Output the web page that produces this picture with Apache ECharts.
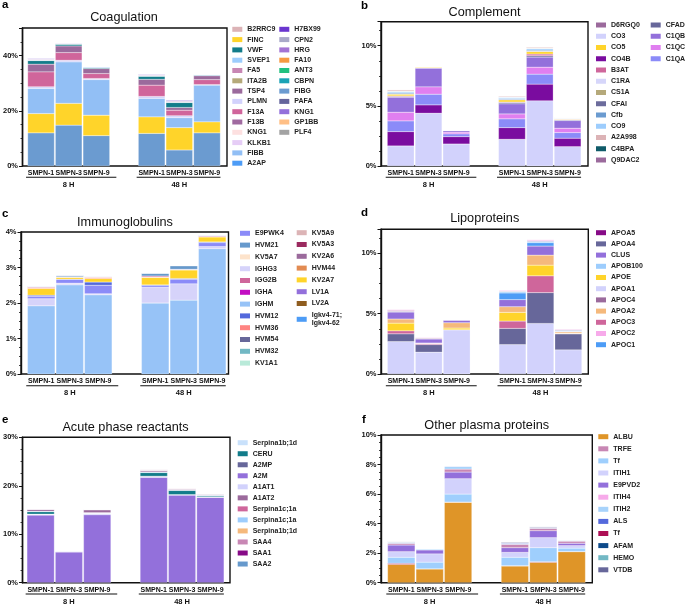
<!DOCTYPE html>
<html><head><meta charset="utf-8">
<script src="https://cdn.jsdelivr.net/npm/echarts@6/dist/echarts.min.js"></script>
<style>html,body{margin:0;padding:0;background:#fff}#c{width:685px;height:606px}</style>
</head><body><div id="c"></div>
<script>
// ---------- shared categories ----------
const categories = ['SMPN-1','SMPN-3','SMPN-9','','SMPN-1','SMPN-3','SMPN-9'];
const groups = ['8 H','48 H'];
// each value row: [8H SMPN-1, 8H SMPN-3, 8H SMPN-9, 48H SMPN-1, 48H SMPN-3, 48H SMPN-9] (%)

// ---------- a: Coagulation ----------
const coagNames = ['FIBG','FINC','FIBB','PLMN','F13A','TSP4','VWF','A2AP','KLKB1','F13B','KNG1 ','H7BX99','CPN2','HRG','SVEP1','FA5','ITA2B','KNG1','B2RRC9','FA10','ANT3','CBPN','PAFA','GP1BB','PLF4'];
const coagValues = [
  [12.0,14.8,11.0,11.8,5.8,12.0],
  [7.0,7.9,7.4,6.0,8.1,4.0],
  [9.1,15.0,12.9,6.7,3.6,13.3],
  [0.6,0.6,0.4,0.7,0.7,0.2],
  [5.4,2.8,1.8,4.1,2.0,1.8],
  [2.8,2.4,1.8,2.1,1.0,1.4],
  [1.3,0.6,0.3,1.1,1.8,0.2],
  [0.1,0.1,0.25,0.1,0.1,0.35],
  [0.25,0.15,0.05,0.25,0.3,0.02],
  [0.15,0.1,0.05,0.15,0.2,0.02],
  [0.3,0.15,0.05,0.25,0.3,0.02],
  [0.1,0.05,0.03,0.1,0.15,0.01],
  [0.1,0.05,0.02,0.1,0.1,0.01],
  [0.1,0.05,0.02,0.1,0.1,0.01],
  [0.05,0.03,0.02,0.03,0.03,0.01],
  [0.01,0.01,0.01,0.01,0.01,0.01],
  [0.01,0.01,0.01,0.01,0.01,0.01],
  [0.01,0.01,0.01,0.01,0.01,0.01],
  [0.01,0.01,0.01,0.01,0.01,0.01],
  [0.01,0.01,0.01,0.01,0.01,0.01],
  [0.01,0.01,0.01,0.01,0.01,0.01],
  [0.01,0.01,0.01,0.01,0.01,0.01],
  [0.01,0.01,0.01,0.01,0.01,0.01],
  [0.01,0.01,0.01,0.01,0.01,0.01],
  [0.01,0.01,0.01,0.01,0.01,0.01]
];
const coagLegend1 = ['B2RRC9','FINC','VWF','SVEP1','FA5','ITA2B','TSP4','PLMN','F13A','F13B','KNG1','KLKB1','FIBB','A2AP'];
const coagLegend2 = ['H7BX99','CPN2','HRG','FA10','ANT3','CBPN','FIBG','PAFA','KNG1 ','GP1BB','PLF4'];

// ---------- b: Complement ----------
const compNames = ['CO3','CO4B','C1QA','C1QC','C1QB','CFAD','B3AT','CO5','CFAI','Cfb','CO9','C1RA','CS1A','A2A998','C4BPA','Q9DAC2','D6RGQ0'];
const compValues = [
  [1.67,4.39,1.83,2.22,5.42,1.61],
  [1.19,0.69,0.61,0.97,1.39,0.7],
  [0.89,0.89,0.23,0.73,0.83,0.47],
  [0.72,0.61,0.14,0.41,0.58,0.36],
  [1.25,1.56,0.13,0.84,0.84,0.64],
  [0.06,0.02,0.01,0.11,0.11,0.05],
  [0.05,0.02,0.01,0.04,0.14,0.04],
  [0.14,0.06,0.01,0.18,0.2,0.04],
  [0.03,0.01,0.005,0.03,0.04,0.02],
  [0.08,0.01,0.01,0.07,0.08,0.03],
  [0.11,0.02,0.01,0.1,0.12,0.03],
  [0.02,0.01,0.005,0.03,0.03,0.01],
  [0.03,0.01,0.005,0.02,0.03,0.02],
  [0.1,0.02,0.02,0.08,0.08,0.03],
  [0.02,0.005,0.005,0.01,0.02,0.005],
  [0.02,0.01,0.005,0.01,0.02,0.005],
  [0.01,0.01,0.005,0.01,0.01,0.005]
];
const compLegend1 = ['D6RGQ0','CO3','CO5','CO4B','B3AT','C1RA','CS1A','CFAI','Cfb','CO9','A2A998','C4BPA','Q9DAC2'];
const compLegend2 = ['CFAD','C1QB','C1QC','C1QA'];

// ---------- c: Immunoglobulins ----------
const igNames = ['IGHM','IGHG3','E9PWK4','HVM12','KV2A7','HVM36','IGG2B','HVM21','KV5A7','IGHA','HVM54','HVM32','KV1A1','KV5A9','KV5A3','KV2A6','HVM44','LV1A','LV2A','Igkv4-71; Igkv4-62'];
const igValues = [
  [1.92,2.51,2.23,2.0,2.08,3.53],
  [0.2,0.05,0.03,0.44,0.46,0.06],
  [0.07,0.11,0.24,0.05,0.13,0.11],
  [0.03,0.0,0.09,0.02,0.02,0.02],
  [0.19,0.05,0.10,0.21,0.24,0.14],
  [0.02,0.01,0.03,0.01,0.01,0.01],
  [0.02,0.01,0.01,0.03,0.01,0.02],
  [0.02,0.04,0.02,0.08,0.1,0.02],
  [0.003,0.003,0.003,0.003,0.003,0.003],
  [0.003,0.003,0.003,0.003,0.003,0.003],
  [0.003,0.003,0.003,0.003,0.003,0.003],
  [0.003,0.003,0.003,0.003,0.003,0.003],
  [0.003,0.003,0.003,0.003,0.003,0.003],
  [0.003,0.003,0.003,0.003,0.003,0.003],
  [0.003,0.003,0.003,0.003,0.003,0.003],
  [0.003,0.003,0.003,0.003,0.003,0.003],
  [0.003,0.003,0.003,0.003,0.003,0.003],
  [0.003,0.003,0.003,0.003,0.003,0.003],
  [0.003,0.003,0.003,0.003,0.003,0.003],
  [0.003,0.003,0.003,0.003,0.003,0.003]
];
const igLegend1 = ['E9PWK4','HVM21','KV5A7','IGHG3','IGG2B','IGHA','IGHM','HVM12','HVM36','HVM54','HVM32','KV1A1'];
const igLegend2 = ['KV5A9','KV5A3','KV2A6','HVM44','KV2A7','LV1A','LV2A','Igkv4-71; Igkv4-62'];

// ---------- d: Lipoproteins ----------
const lipoNames = ['APOA1','APOA4','APOC3','APOE','APOA2','CLUS','APOC1','APOB100','APOC4','APOC2','APOA5'];
const lipoValues = [
  [2.69,1.81,3.67,2.44,4.19,2.0],
  [0.64,0.63,0.0,1.34,2.56,1.33],
  [0.25,0.09,0.0,0.61,1.39,0.02],
  [0.64,0.02,0.14,0.72,0.89,0.02],
  [0.34,0.02,0.44,0.47,0.83,0.12],
  [0.58,0.34,0.22,0.59,0.75,0.03],
  [0.03,0.01,0.01,0.55,0.28,0.02],
  [0.02,0.02,0.01,0.11,0.11,0.08],
  [0.08,0.05,0.01,0.04,0.05,0.05],
  [0.08,0.05,0.02,0.07,0.09,0.06],
  [0.01,0.01,0.005,0.01,0.01,0.01]
];
const lipoLegend = ['APOA5','APOA4','CLUS','APOB100','APOE','APOA1','APOC4','APOA2','APOC3','APOC2','APOC1'];

// ---------- e: Acute phase reactants ----------
const apNames = ['A2M','A1AT1','A2MP','CERU','Serpina1b;1d','A1AT2','Serpina1c;1a','Serpina1c;1a ','Serpina1b;1d ','SAA4','SAA1','SAA2'];
const apValues = [
  [13.95,6.32,14.02,21.72,18.08,17.6],
  [0.15,0.21,0.28,0.15,0.05,0.05],
  [0.05,0.01,0.05,0.1,0.05,0.05],
  [0.5,0.02,0.05,0.75,0.85,0.2],
  [0.1,0.01,0.05,0.15,0.05,0.15],
  [0.4,0.02,0.6,0.3,0.2,0.2],
  [0.02,0.01,0.02,0.05,0.05,0.02],
  [0.02,0.01,0.02,0.03,0.03,0.02],
  [0.02,0.01,0.02,0.03,0.03,0.02],
  [0.05,0.01,0.05,0.1,0.1,0.05],
  [0.01,0.01,0.01,0.01,0.01,0.01],
  [0.01,0.01,0.01,0.01,0.01,0.01]
];
const apLegend = ['Serpina1b;1d','CERU','A2MP','A2M','A1AT1','A1AT2','Serpina1c;1a','Serpina1c;1a ','Serpina1b;1d ','SAA4','SAA1','SAA2'];

// ---------- f: Other plasma proteins ----------
const opNames = ['ALBU','Tf ','Tf','ITIH1','E9PVD2','TRFE','ITIH2','ALS','VTDB','ITIH4','AFAM','HEMO'];
const opValues = [
  [1.24,0.93,5.44,1.13,1.38,2.10],
  [0.07,0.01,0.02,0.02,0.04,0.01],
  [0.41,0.45,0.54,0.57,0.95,0.23],
  [0.38,0.56,1.04,0.33,0.68,0.17],
  [0.45,0.27,0.45,0.32,0.47,0.16],
  [0.11,0.01,0.2,0.23,0.16,0.14],
  [0.07,0.07,0.19,0.05,0.05,0.05],
  [0.01,0.005,0.01,0.04,0.01,0.01],
  [0.04,0.01,0.02,0.06,0.05,0.02],
  [0.01,0.01,0.01,0.01,0.01,0.01],
  [0.01,0.01,0.01,0.01,0.01,0.01],
  [0.01,0.01,0.01,0.01,0.01,0.01]
];
const opLegend = ['ALBU','TRFE','Tf','ITIH1','E9PVD2','ITIH4','ITIH2','ALS','Tf ','AFAM','HEMO','VTDB'];

// ---------- titles / axes ----------
const panelTitles = ['Coagulation','Complement','Immunoglobulins','Lipoproteins','Acute phase reactants','Other plasma proteins'];
const panelLetters = ['a','b','c','d','e','f'];
const yMax = [50,12,4,12,30,10];
const yInterval = [20,5,1,5,10,2];

// ---------- styles (colours) ----------
const coagColors = ['#6b9bd0','#ffd42a','#92bff5','#d2d2fc','#d0659b','#9b6a9c','#127c8a','#4d9cf6','#e6cdf6','#a06aa0','#9370db','#6a36cf','#a9a9c9','#a374d4','#9dcdfd','#c887b4','#b5a97a','#fde0e0','#dcb3b6','#f79a42','#22c17f','#1ba3b5','#65659c','#ffbf85','#a3a3a3'];
const compColors = ['#d2d2fc','#7a0c9f','#8b8bf8','#e07ff0','#9370db','#67679a','#cf669b','#ffd42a','#6c6c9c','#6b9bd0','#9dcdfd','#d6d6fa','#b5a97a','#dcb3b6','#0f5b69','#9b6a9c','#9b6a9c'];
const igColors = ['#97c3f7','#d6d3fa','#8b8bf8','#5469dc','#ffd42a','#ff8482','#cf669b','#6699cc','#fde3cb','#c20ec2','#67679a','#72b8c4','#b9ead9','#dcb4b6','#9b2a5f','#9b6a9c','#e28b52','#9370db','#8f5d1f','#4d9cf6'];
const lipoColors = ['#d2d2fc','#67679a','#cf669b','#ffd42a','#f5b97c','#9370db','#4d9cf6','#9dcdfd','#9b6a9c','#f7aaea','#870a87'];
const apColors = ['#9370db','#d2d2fc','#67679a','#127c8a','#c9e1fb','#9b6a9c','#cf669b','#9dcdfd','#f5b97c','#c887b4','#870a87','#6699cc'];
const opColors = ['#df9528','#ad0f55','#9fcffd','#d2d2fc','#9370db','#c887b4','#a8d3fb','#5469dc','#67679a','#f7aaea','#0d4a8a','#72b8c4'];

const FONT = '"Liberation Sans", Arial, Helvetica, sans-serif';

const panels = [
  {names: coagNames, values: coagValues, colors: coagColors, legends: [coagLegend1, coagLegend2]},
  {names: compNames, values: compValues, colors: compColors, legends: [compLegend1, compLegend2]},
  {names: igNames, values: igValues, colors: igColors, legends: [igLegend1, igLegend2]},
  {names: lipoNames, values: lipoValues, colors: lipoColors, legends: [lipoLegend]},
  {names: apNames, values: apValues, colors: apColors, legends: [apLegend]},
  {names: opNames, values: opValues, colors: opColors, legends: [opLegend]}
];

// layout: box [left, top, width, height], bars [left, width]
const layout = [
  {box:[21,28,206,138], bars:[27.2,193.6], title:[124,10.5], letter:[2,-1.5], leg:[[232.3,25.3],[279.3,25.3]], gap:2.3, ul:11.3},
  {box:[381,21.7,207,144.3], bars:[386.8,194.7], title:[484.5,5.5], letter:[361,0], leg:[[596,21],[650.7,21]], gap:3.25, ul:11.3},
  {box:[21,232,207.5,142], bars:[27,199.5], title:[125,215.5], letter:[2,208.3], leg:[[240,229.3],[296.7,228.7]], gap:3.8, ul:11.7},
  {box:[381,229.3,207.3,144.7], bars:[386.9,195.4], title:[484.7,212.2], letter:[361,207.3], leg:[[596,228.7]], gap:3.2, ul:11.7},
  {box:[21,437.3,209,145.4], bars:[26.5,198], title:[125.5,420.5], letter:[2,414], leg:[[237.7,438.7]], gap:3.03, ul:11.3},
  {box:[381,435,211.3,147.7], bars:[387.1,198.8], title:[486.7,419], letter:[362,414], leg:[[598.3,432.7]], gap:4.1, ul:11.3}
];

const option = {animation:false, textStyle:{fontFamily:FONT}, title:[], grid:[], xAxis:[], yAxis:[], legend:[], series:[]};
const groupRow = categories.map((c, i) => i === 1 ? groups[0] : (i === 5 ? groups[1] : ''));

panels.forEach((p, i) => {
  const L = layout[i];
  option.title.push({text: panelTitles[i], left: L.title[0], top: L.title[1], textAlign: 'center', padding: 0,
    textStyle: {fontSize: 12.7, fontWeight: 'normal', color: '#111', fontFamily: FONT}});
  option.title.push({text: panelLetters[i], left: L.letter[0], top: L.letter[1], padding: 0,
    textStyle: {fontSize: 11.5, fontWeight: 'bold', color: '#000', fontFamily: FONT}});
  option.grid.push({left: L.box[0], top: L.box[1], width: L.box[2], height: L.box[3], show: true,
    borderColor: '#111', borderWidth: 1.4, backgroundColor: 'rgba(0,0,0,0)'});
  option.grid.push({left: L.bars[0], top: L.box[1], width: L.bars[1], height: L.box[3]});
  option.xAxis.push({type: 'value', gridIndex: 2*i, show: false, min: 0, max: 1});
  option.xAxis.push({type: 'category', gridIndex: 2*i+1, data: categories, axisLine: {show: false}, axisTick: {show: false},
    axisLabel: {interval: 0, margin: 3.5, fontSize: 7, fontWeight: 'bold', color: '#111', fontFamily: FONT}});
  option.xAxis.push({type: 'category', gridIndex: 2*i+1, data: groupRow, position: 'bottom', axisLine: {show: false}, axisTick: {show: false},
    axisLabel: {interval: 0, margin: 15, fontSize: 7.5, fontWeight: 'bold', color: '#111', fontFamily: FONT}});
  const mx = yMax[i], itv = yInterval[i];
  option.yAxis.push({type: 'value', gridIndex: 2*i, min: 0, max: mx, interval: itv,
    axisLine: {show: true, lineStyle: {color: '#111', width: 1.4}},
    axisTick: {show: true, length: 3.5, lineStyle: {color: '#111', width: 1}},
    minorTick: {show: true, splitNumber: 4, length: 2, lineStyle: {color: '#111', width: 0.8}},
    splitLine: {show: false},
    axisLabel: {margin: 4.5, fontSize: 7.5, fontWeight: 'bold', color: '#111', fontFamily: FONT,
      formatter: v => (Math.abs(v / itv - Math.round(v / itv)) > 1e-6 ? '' : v + '%')}});
  option.yAxis.push({type: 'value', gridIndex: 2*i+1, min: 0, max: mx, show: false});
  p.names.forEach((n, k) => {
    const vals = p.values[k];
    let j = 0;
    const data = categories.map(c => (c === '' ? '-' : vals[j++]));
    option.series.push({type: 'bar', name: n, stack: 'st' + i, xAxisIndex: 3*i+1, yAxisIndex: 2*i+1,
      barCategoryGap: '3.5%', data: data,
      itemStyle: {color: p.colors[k], borderColor: '#fff', borderWidth: 0.25},
      emphasis: {disabled: true}});
  });
  p.legends.forEach((names, j) => {
    option.legend.push({data: names, orient: 'vertical', left: L.leg[j][0], top: L.leg[j][1],
      itemWidth: 10, itemHeight: 5, itemGap: L.gap, icon: 'rect', padding: 0, selectedMode: false,
      itemStyle: {borderWidth: 0},
      formatter: nm => nm.replace('; ', ';\n'),
      textStyle: {fontSize: 7, fontWeight: 'bold', color: '#222', lineHeight: 8, fontFamily: FONT}});
  });
});

const chart = echarts.init(document.getElementById('c'), null, {renderer: 'canvas'});
chart.setOption(option);

// group underlines positioned from the category axes
const gfx = [];
layout.forEach((L, i) => {
  const xi = 3*i + 1;
  const px = idx => chart.convertToPixel({xAxisIndex: xi}, idx);
  const y = L.box[1] + L.box[3] + L.ul;
  gfx.push({type: 'line', shape: {x1: px(0) - 15, y1: y, x2: px(2) + 20, y2: y}, style: {stroke: '#111', lineWidth: 1.1}});
  gfx.push({type: 'line', shape: {x1: px(4) - 15, y1: y, x2: px(6) + 13.5, y2: y}, style: {stroke: '#111', lineWidth: 1.1}});
});
chart.setOption({graphic: gfx});
</script>
</body></html>
